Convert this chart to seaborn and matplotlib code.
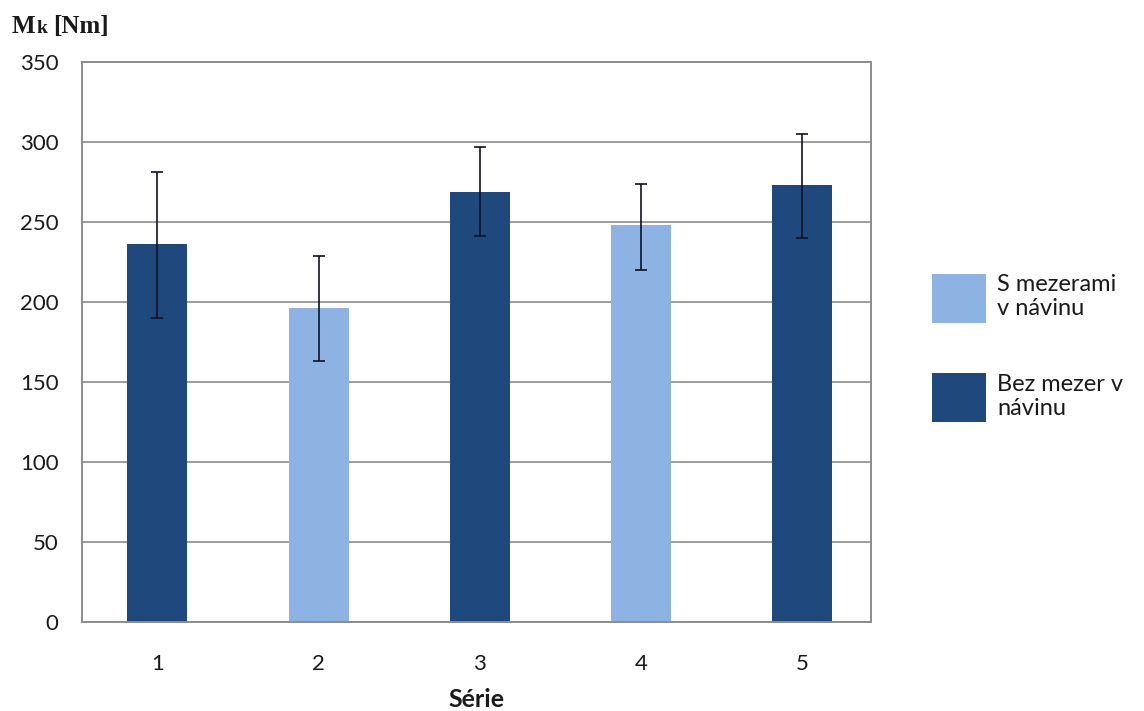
import matplotlib
matplotlib.use("Agg")
import matplotlib.pyplot as plt
from matplotlib.patches import Patch
import numpy as np
import pandas as pd
import seaborn as sns

# Torque per test series
series = ["1", "2", "3", "4", "5"]
torque = [236, 196, 269, 248, 273]
err_low = [46, 33, 28, 28, 33]
err_high = [45, 33, 28, 26, 32]
group = ["Bez mezer v\nnávinu", "S mezerami\nv návinu", "Bez mezer v\nnávinu",
         "S mezerami\nv návinu", "Bez mezer v\nnávinu"]
legend_order = ["S mezerami\nv návinu", "Bez mezer v\nnávinu"]
yticks = [0, 50, 100, 150, 200, 250, 300, 350]

dark = "#1f497d"
light = "#8db3e2"
palette = {legend_order[0]: light, legend_order[1]: dark}
text_col = "#1a1a1a"

sns.set_theme(style="white")
plt.rcParams["font.family"] = ["Lato", "DejaVu Sans"]

df = pd.DataFrame({"Série": series, "Mk": torque, "group": group})

fig = plt.figure(figsize=(11.44, 7.11), dpi=100)
ax = fig.add_axes([82 / 1144, 1 - 622 / 711, (871 - 82) / 1144, (622 - 62) / 711])

sns.barplot(data=df, x="Série", y="Mk", hue="group", palette=palette,
            dodge=False, width=0.372, errorbar=None, legend=False, ax=ax,
            saturation=1, linewidth=0)

xpos = np.arange(len(series))
ax.errorbar(xpos, torque, yerr=[err_low, err_high], fmt="none",
            ecolor="#111122", elinewidth=1.2, capsize=4, capthick=1.2, zorder=5)

ax.set_ylim(0, 350)
ax.set_xlim(-0.468, 4.427)
ax.set_yticks(yticks)
ax.yaxis.grid(True, color="#8c8c8c", linewidth=1.2)
ax.set_axisbelow(True)
for side in ax.spines.values():
    side.set_color("#8c8c8c")
    side.set_linewidth(1.4)

ax.tick_params(axis="both", length=0, labelsize=16, colors=text_col)
ax.tick_params(axis="x", pad=23)
ax.tick_params(axis="y", pad=17)
ax.set_ylabel("")
ax.set_xlabel("Série", fontsize=18, fontweight="bold", color=text_col, labelpad=10)

# Axis title in the top-left corner
t1 = fig.text(12 / 1144, 1 - 33 / 711, "M", family="Liberation Serif",
              fontweight="bold", fontsize=18, color=text_col)
fig.canvas.draw()
bb = t1.get_window_extent()
t2 = fig.text(bb.x1 / 1144 + 0.0005, 1 - 33 / 711, "k", family="Liberation Serif",
              fontweight="bold", fontsize=14, color=text_col)
fig.canvas.draw()
bb2 = t2.get_window_extent()
fig.text(bb2.x1 / 1144 + 0.005, 1 - 33 / 711, "[Nm]", family="Liberation Serif",
         fontweight="bold", fontsize=18, color=text_col)

handles = [Patch(facecolor=palette[k], edgecolor="none", label=k) for k in legend_order]
fig.legend(handles=handles, loc="center left", bbox_to_anchor=(923 / 1144, 1 - 348 / 711),
           frameon=False, fontsize=17, handlelength=2.25, handleheight=2.8,
           labelspacing=2.16, handletextpad=0.5, labelcolor=text_col,
           borderaxespad=0, borderpad=0.4)

fig.savefig("out.png", dpi=100, facecolor="white")
